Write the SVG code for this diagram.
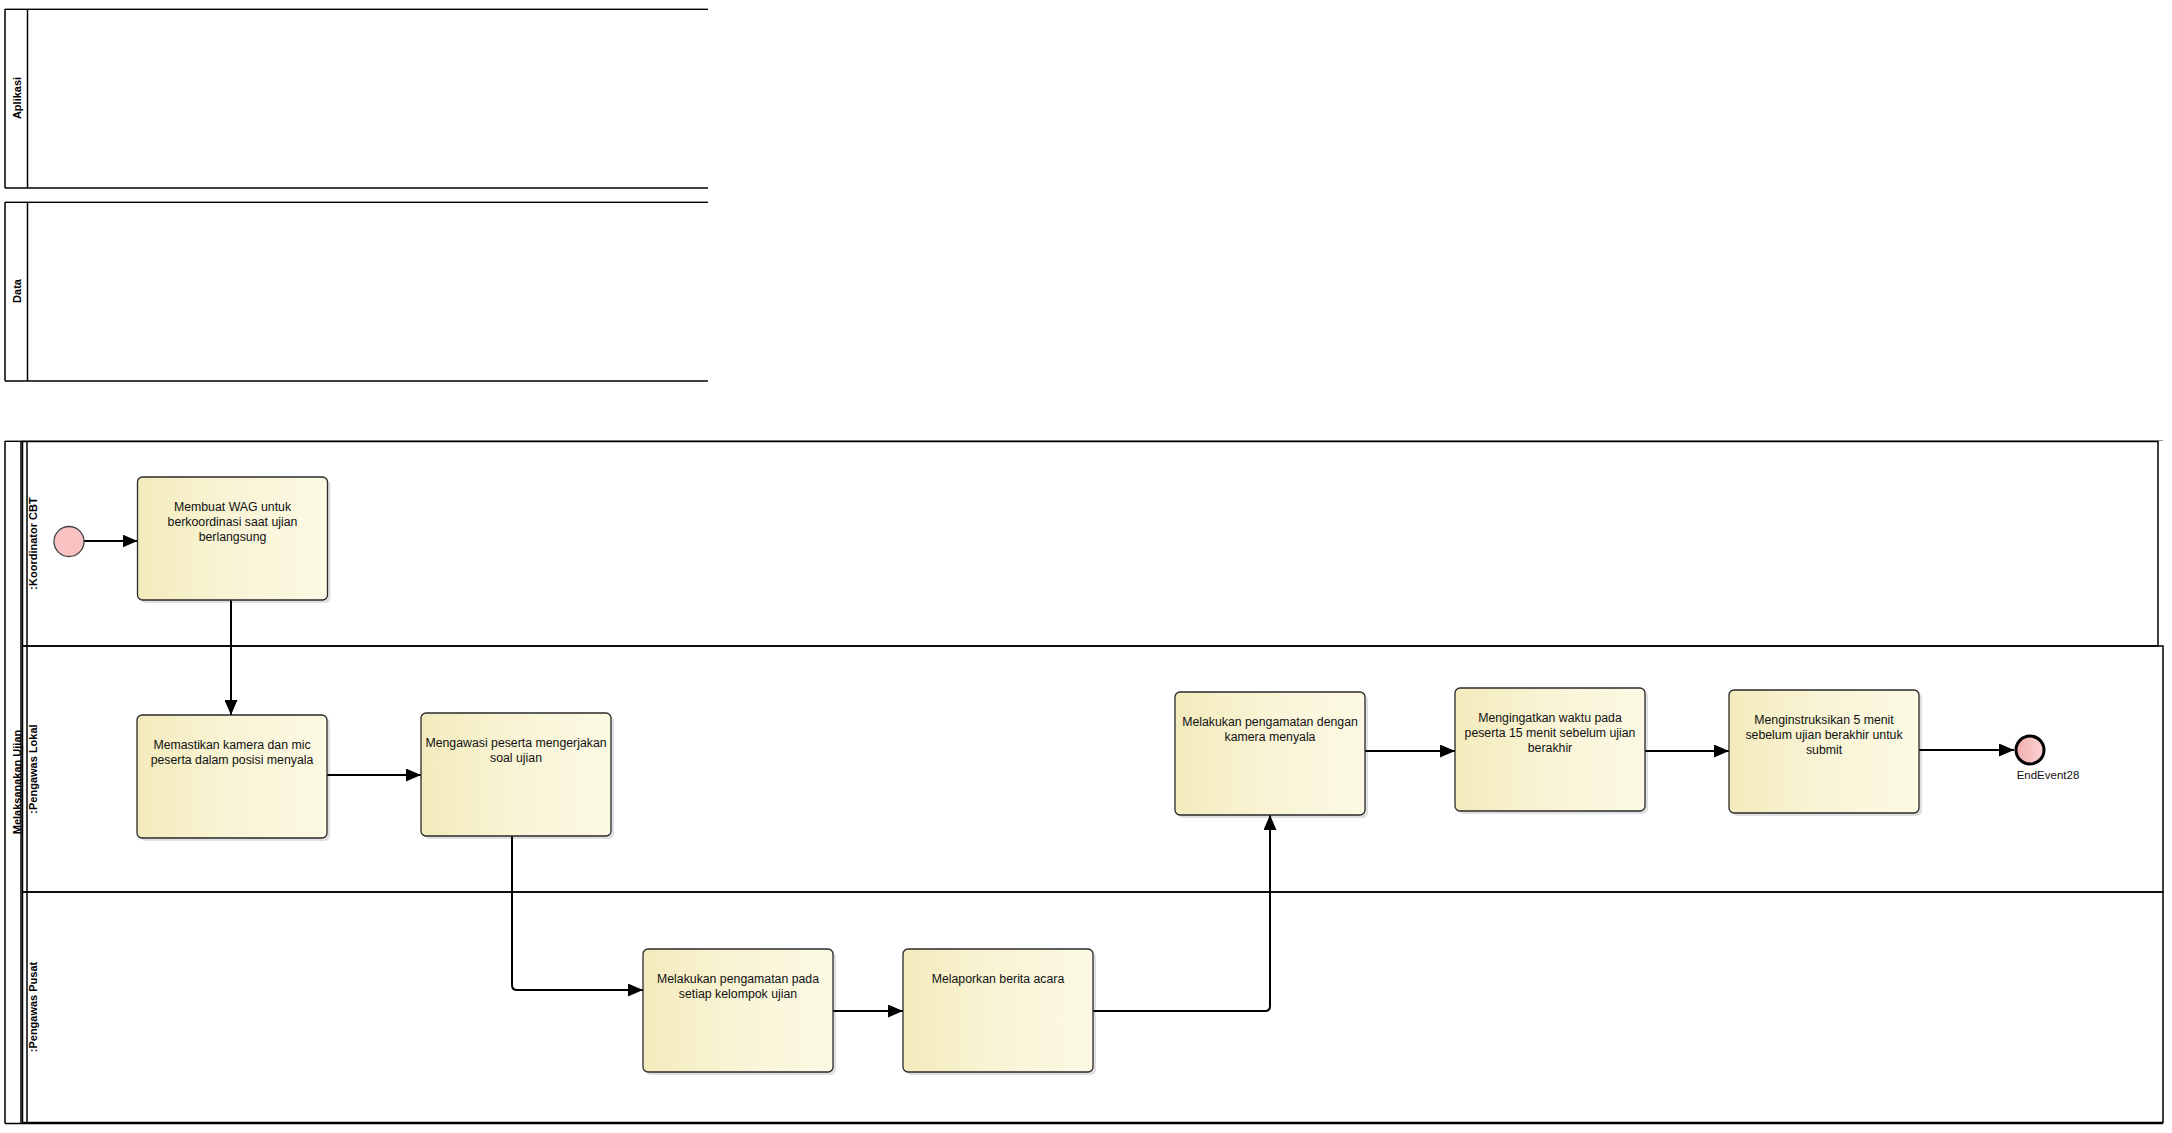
<svg xmlns="http://www.w3.org/2000/svg" width="2172" height="1133" viewBox="0 0 2172 1133">
<defs>
<style>
.pl{fill:none;stroke:#000;stroke-width:1.5}
.hd{font-family:"Liberation Sans",Arial,sans-serif;font-size:11px;font-weight:bold;fill:#000;text-anchor:middle}
.task rect.b{stroke:#2a2a2a;stroke-width:1.3;fill:url(#tg)}
.task rect.s{fill:#000;opacity:0.12}
.task text{font-family:"Liberation Sans",Arial,sans-serif;font-size:12.3px;fill:#111;text-anchor:middle}
.cn{fill:none;stroke:#000;stroke-width:2}
.lbl{font-family:"Liberation Sans",Arial,sans-serif;font-size:11.5px;fill:#111;text-anchor:middle}
</style>
<linearGradient id="tg" x1="0" y1="0" x2="1" y2="0">
<stop offset="0" stop-color="#F3EBBC"/>
<stop offset="0.5" stop-color="#F9F4D6"/>
<stop offset="1" stop-color="#FCF9E4"/>
</linearGradient>
<linearGradient id="eg" x1="0" y1="0" x2="1" y2="0">
<stop offset="0" stop-color="#F2AEAE"/>
<stop offset="1" stop-color="#FBD3D3"/>
</linearGradient>
<marker id="ar" markerUnits="userSpaceOnUse" markerWidth="15" markerHeight="13" refX="15" refY="6.5" orient="auto">
<path d="M0,0 L15,6.5 L0,13 z" fill="#000"/>
</marker>
</defs>

<g id="pool-aplikasi">
<line x1="5" y1="8.5" x2="708" y2="8.5" stroke="#999" stroke-width="1"/>
<line x1="5" y1="9.5" x2="708" y2="9.5" stroke="#000" stroke-width="1.2"/>
<line x1="5" y1="188" x2="708" y2="188" class="pl"/>
<line x1="5" y1="9" x2="5" y2="188" class="pl"/>
<line x1="27.5" y1="9" x2="27.5" y2="188" class="pl"/>
<text class="hd" transform="translate(21,98) rotate(-90)">Aplikasi</text>
</g>

<g id="pool-data">
<line x1="5" y1="201.5" x2="708" y2="201.5" stroke="#999" stroke-width="1"/>
<line x1="5" y1="202.5" x2="708" y2="202.5" stroke="#000" stroke-width="1.2"/>
<line x1="5" y1="381" x2="708" y2="381" class="pl"/>
<line x1="5" y1="202" x2="5" y2="381" class="pl"/>
<line x1="27.5" y1="202" x2="27.5" y2="381" class="pl"/>
<text class="hd" transform="translate(21,291) rotate(-90)">Data</text>
</g>

<g id="pool-melaksanakan">
<line x1="5" y1="440.5" x2="2163" y2="440.5" stroke="#999" stroke-width="1"/>
<line x1="5" y1="441.5" x2="2158" y2="441.5" stroke="#000" stroke-width="1.2"/>
<line x1="5" y1="441" x2="5" y2="1123.5" class="pl"/>
<line x1="5" y1="1123.5" x2="2163" y2="1123.5" class="pl"/>
<line x1="21" y1="441" x2="21" y2="1123.5" class="pl"/>
<text class="hd" transform="translate(20.5,782) rotate(-90)">Melaksanakan Ujian</text>
</g>

<g id="lane-koordinator">
<rect x="22.5" y="441.5" width="2135.5" height="204.5" class="pl"/>
<line x1="27" y1="441.5" x2="27" y2="646" class="pl"/>
<text class="hd" transform="translate(37,543.5) rotate(-90)">:Koordinator CBT</text>
</g>

<g id="lane-lokal">
<rect x="22.5" y="646" width="2140.5" height="246" class="pl"/>
<line x1="27" y1="646" x2="27" y2="892" class="pl"/>
<text class="hd" transform="translate(37,769) rotate(-90)">:Pengawas Lokal</text>
</g>

<g id="lane-pusat">
<rect x="22.5" y="892" width="2140.5" height="230.5" class="pl"/>
<line x1="27" y1="892" x2="27" y2="1122.5" class="pl"/>
<text class="hd" transform="translate(37,1007) rotate(-90)">:Pengawas Pusat</text>
</g>

<g id="connectors">
<line x1="84" y1="541" x2="137.5" y2="541" class="cn" marker-end="url(#ar)"/>
<line x1="231" y1="600" x2="231" y2="715" class="cn" marker-end="url(#ar)"/>
<line x1="327" y1="775" x2="421" y2="775" class="cn" marker-end="url(#ar)"/>
<path d="M512,836 V985 Q512,990 517,990 H643" class="cn" marker-end="url(#ar)"/>
<line x1="833" y1="1011" x2="903" y2="1011" class="cn" marker-end="url(#ar)"/>
<path d="M1093,1011 H1265 Q1270,1011 1270,1006 V815" class="cn" marker-end="url(#ar)"/>
<line x1="1365" y1="751" x2="1455" y2="751" class="cn" marker-end="url(#ar)"/>
<line x1="1645" y1="751" x2="1729" y2="751" class="cn" marker-end="url(#ar)"/>
<line x1="1919" y1="750" x2="2014" y2="750" class="cn" marker-end="url(#ar)"/>
</g>

<g id="start">
<circle cx="69" cy="541.5" r="15" fill="#F9C3C3" stroke="#444" stroke-width="1.3"/>
</g>

<g id="t1" class="task">
<rect class="s" x="140.5" y="480" width="190" height="123" rx="5"/>
<rect class="b" x="137.5" y="477" width="190" height="123" rx="5"/>
<text x="232.5" y="511">Membuat WAG untuk</text>
<text x="232.5" y="526">berkoordinasi saat ujian</text>
<text x="232.5" y="541">berlangsung</text>
</g>

<g id="t2" class="task">
<rect class="s" x="140" y="718" width="190" height="123" rx="5"/>
<rect class="b" x="137" y="715" width="190" height="123" rx="5"/>
<text x="232" y="749">Memastikan kamera dan mic</text>
<text x="232" y="764">peserta dalam posisi menyala</text>
</g>

<g id="t3" class="task">
<rect class="s" x="424" y="716" width="190" height="123" rx="5"/>
<rect class="b" x="421" y="713" width="190" height="123" rx="5"/>
<text x="516" y="747">Mengawasi peserta mengerjakan</text>
<text x="516" y="762">soal ujian</text>
</g>

<g id="t4" class="task">
<rect class="s" x="646" y="952" width="190" height="123" rx="5"/>
<rect class="b" x="643" y="949" width="190" height="123" rx="5"/>
<text x="738" y="983">Melakukan pengamatan pada</text>
<text x="738" y="998">setiap kelompok ujian</text>
</g>

<g id="t5" class="task">
<rect class="s" x="906" y="952" width="190" height="123" rx="5"/>
<rect class="b" x="903" y="949" width="190" height="123" rx="5"/>
<text x="998" y="983">Melaporkan berita acara</text>
</g>

<g id="t6" class="task">
<rect class="s" x="1178" y="695" width="190" height="123" rx="5"/>
<rect class="b" x="1175" y="692" width="190" height="123" rx="5"/>
<text x="1270" y="726">Melakukan pengamatan dengan</text>
<text x="1270" y="741">kamera menyala</text>
</g>

<g id="t7" class="task">
<rect class="s" x="1458" y="691" width="190" height="123" rx="5"/>
<rect class="b" x="1455" y="688" width="190" height="123" rx="5"/>
<text x="1550" y="722">Mengingatkan waktu pada</text>
<text x="1550" y="737">peserta 15 menit sebelum ujian</text>
<text x="1550" y="752">berakhir</text>
</g>

<g id="t8" class="task">
<rect class="s" x="1732" y="693" width="190" height="123" rx="5"/>
<rect class="b" x="1729" y="690" width="190" height="123" rx="5"/>
<text x="1824" y="724">Menginstruksikan 5 menit</text>
<text x="1824" y="739">sebelum ujian berakhir untuk</text>
<text x="1824" y="754">submit</text>
</g>

<g id="end">
<circle cx="2030" cy="750" r="14" fill="url(#eg)" stroke="#000" stroke-width="3"/>
<text class="lbl" x="2048" y="779">EndEvent28</text>
</g>
</svg>
